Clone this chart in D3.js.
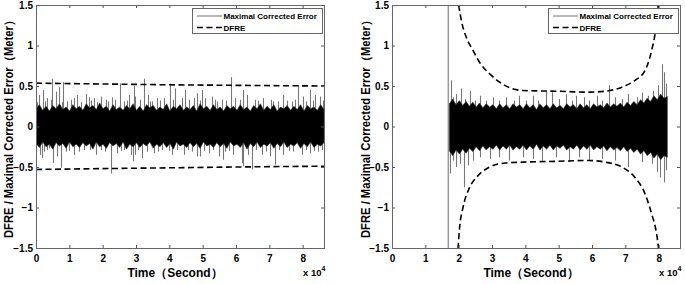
<!DOCTYPE html>
<html>
<head>
<meta charset="utf-8">
<script src="https://cdn.jsdelivr.net/npm/d3@7"></script>
<style>
  body { margin: 0; background: #fff; }
  text { font-family: "Liberation Sans", Arial, sans-serif; font-weight: bold; fill: #000; }
</style>
</head>
<body>
<svg id="mySvg" width="685" height="284"></svg>
<script>
// time in units of 1e4 s, errors in metres
const xTicks = [0, 1, 2, 3, 4, 5, 6, 7, 8];
const yTicks = [-1.5, -1, -0.5, 0, 0.5, 1, 1.5];
const legendLabels = ["Maximal Corrected Error", "DFRE"];
const timeEnd = 8.64;

// left panel: dense error band edges (evenly spread over the record)
const leftCoreRange = [0, 8.64];
const leftCoreUpper = [
  0.22,0.27,0.20,0.25,0.19,0.26,0.22,0.28,0.21,0.24,
  0.19,0.27,0.22,0.25,0.20,0.28,0.23,0.26,0.21,0.29,
  0.22,0.25,0.19,0.27,0.21,0.24,0.20,0.26,0.22,0.28,
  0.20,0.25,0.19,0.27,0.23,0.26,0.20,0.24,0.21,0.28,
  0.19,0.25,0.22,0.27,0.20,0.24,0.21,0.26,0.19,0.28,
  0.22,0.25,0.20,0.27,0.21,0.24,0.19,0.26,0.22,0.25,
  0.20,0.27,0.21,0.24,0.19,0.26,0.22,0.28,0.20,0.25,
  0.21,0.27,0.19,0.24,0.22,0.26,0.20,0.25,0.21,0.27,
  0.19,0.26,0.22,0.24,0.20,0.27,0.21];
const leftCoreLower = [
  -0.21,-0.26,-0.19,-0.25,-0.22,-0.28,-0.20,-0.24,-0.21,-0.27,
  -0.19,-0.25,-0.22,-0.26,-0.20,-0.24,-0.21,-0.28,-0.19,-0.25,
  -0.22,-0.27,-0.20,-0.24,-0.21,-0.26,-0.19,-0.28,-0.22,-0.25,
  -0.20,-0.26,-0.21,-0.24,-0.19,-0.27,-0.22,-0.25,-0.20,-0.26,
  -0.21,-0.28,-0.19,-0.24,-0.22,-0.26,-0.20,-0.25,-0.21,-0.27,
  -0.19,-0.24,-0.22,-0.26,-0.20,-0.25,-0.21,-0.27,-0.19,-0.24,
  -0.22,-0.26,-0.20,-0.28,-0.21,-0.25,-0.19,-0.26,-0.22,-0.24,
  -0.20,-0.27,-0.21,-0.25,-0.19,-0.26,-0.22,-0.24,-0.20,-0.27,
  -0.21,-0.25,-0.19,-0.26,-0.22,-0.24,-0.20];
// left panel: isolated peaks [time, value]
const leftSpikes = [
  [0.09,0.39],[0.22,0.45],[0.34,0.35],[0.49,0.59],[0.59,0.43],[0.69,0.49],[0.82,0.55],[0.94,0.31],[1.14,0.35],[1.24,0.39],
  [1.49,0.40],[1.59,0.36],[1.74,0.35],[1.94,0.37],[2.09,0.33],[2.29,0.36],[2.52,0.53],[2.64,0.31],[2.79,0.39],[2.93,0.50],
  [2.98,0.37],[3.23,0.59],[3.36,0.39],[3.48,0.31],[3.63,0.35],[3.83,0.35],[4.03,0.53],[4.18,0.47],[4.38,0.35],[4.48,0.45],
  [4.73,0.35],[4.83,0.41],[4.98,0.45],[5.08,0.35],[5.28,0.37],[5.43,0.31],[5.58,0.33],[5.85,0.61],[5.97,0.35],[6.22,0.45],
  [6.32,0.39],[6.57,0.33],[6.82,0.35],[7.12,0.31],[7.42,0.39],[7.67,0.31],[7.87,0.51],[8.02,0.37],[8.22,0.45],[8.37,0.39],[8.52,0.37],
  [0.04,0.30],[0.28,0.31],[0.44,0.33],[0.77,0.30],[1.04,0.33],[1.34,0.30],[1.66,0.32],[1.84,0.30],[2.17,0.31],[2.37,0.33],
  [2.72,0.32],[3.12,0.33],[3.42,0.31],[3.72,0.32],[4.12,0.33],[4.58,0.33],[4.92,0.32],[5.36,0.33],[5.70,0.32],[6.12,0.33],
  [6.66,0.32],[7.05,0.33],[7.27,0.31],[7.52,0.32],[7.78,0.33],[8.10,0.31],[8.30,0.32],[8.60,0.32],
  [0.12,-0.35],[0.17,-0.39],[0.24,-0.31],[0.39,-0.27],[0.52,-0.45],[0.62,-0.37],[0.74,-0.51],[0.89,-0.31],[1.14,-0.35],[1.44,-0.29],
  [1.79,-0.35],[1.94,-0.29],[2.26,-0.58],[2.44,-0.33],[2.64,-0.29],[2.84,-0.35],[2.92,-0.43],[2.98,-0.35],[3.18,-0.39],[3.33,-0.31],
  [3.53,-0.33],[3.78,-0.29],[4.08,-0.35],[4.23,-0.29],[4.43,-0.35],[4.68,-0.31],[4.82,-0.37],[4.93,-0.37],[5.18,-0.33],[5.48,-0.37],
  [5.60,-0.41],[5.68,-0.31],[5.92,-0.35],[6.17,-0.45],[6.20,-0.49],[6.37,-0.35],[6.47,-0.53],[6.77,-0.35],[7.02,-0.37],[7.17,-0.47],
  [7.42,-0.35],[7.72,-0.31],[7.97,-0.35],[8.22,-0.33],[8.47,-0.31],
  [0.32,-0.29],[0.98,-0.30],[1.28,-0.31],[1.62,-0.29],[2.08,-0.31],[2.54,-0.30],[3.05,-0.29],[3.66,-0.31],[3.98,-0.30],[4.55,-0.29],
  [5.05,-0.30],[5.30,-0.29],[5.80,-0.30],[6.60,-0.29],[6.90,-0.31],[7.30,-0.29],[7.58,-0.30],[8.10,-0.29],[8.35,-0.30],[8.58,-0.29]
];
const leftDfreTime = [0, 2, 4, 6, 8.64];
const leftDfreUpper = [0.535, 0.525, 0.515, 0.508, 0.50];
const leftDfreLower = [-0.53, -0.52, -0.51, -0.50, -0.49];

// right panel
const rightJumpTime = 1.69;
const rightCoreRange = [1.72, 8.26];
const rightCoreUpper = [
  0.28,0.34,0.27,0.32,0.26,0.31,0.25,0.30,0.24,0.29,
  0.23,0.28,0.24,0.27,0.22,0.28,0.23,0.27,0.22,0.28,
  0.24,0.27,0.22,0.28,0.23,0.27,0.21,0.28,0.23,0.27,
  0.22,0.28,0.23,0.26,0.22,0.28,0.24,0.27,0.22,0.28,
  0.23,0.27,0.22,0.28,0.24,0.27,0.23,0.29,0.24,0.28,
  0.25,0.29,0.24,0.30,0.26,0.31,0.27,0.33,0.29,0.35,
  0.31,0.38,0.33,0.40,0.35,0.37];
const rightCoreLower = [
  -0.30,-0.36,-0.29,-0.34,-0.28,-0.33,-0.27,-0.31,-0.25,-0.30,
  -0.24,-0.29,-0.25,-0.28,-0.23,-0.29,-0.24,-0.28,-0.23,-0.29,
  -0.25,-0.28,-0.23,-0.29,-0.24,-0.28,-0.22,-0.29,-0.24,-0.28,
  -0.23,-0.29,-0.24,-0.27,-0.23,-0.29,-0.25,-0.28,-0.23,-0.29,
  -0.24,-0.28,-0.23,-0.29,-0.25,-0.28,-0.24,-0.30,-0.25,-0.29,
  -0.26,-0.30,-0.25,-0.31,-0.27,-0.32,-0.28,-0.34,-0.30,-0.36,
  -0.32,-0.39,-0.34,-0.41,-0.36,-0.38];
const rightSpikes = [
  [1.76,0.57],[1.84,0.36],[1.93,0.40],[2.08,0.47],[2.18,0.34],[2.33,0.44],[2.48,0.32],[2.63,0.38],[2.83,0.32],[3.03,0.36],
  [3.22,0.32],[3.42,0.36],[3.67,0.32],[3.82,0.38],[4.02,0.32],[4.22,0.38],[4.37,0.32],[4.61,0.44],[4.81,0.42],[5.01,0.34],
  [5.21,0.40],[5.39,0.32],[5.51,0.38],[5.75,0.36],[5.90,0.32],[6.15,0.38],[6.30,0.32],[6.50,0.51],[6.70,0.36],[6.89,0.34],
  [7.09,0.40],[7.34,0.36],[7.49,0.42],[7.69,0.38],[7.84,0.44],[7.99,0.51],[8.09,0.77],[8.16,0.67],[8.23,0.53],
  [1.74,-0.58],[1.82,-0.42],[1.93,-0.50],[2.03,-0.46],[2.15,-0.75],[2.28,-0.48],[2.43,-0.42],[2.63,-0.38],[2.93,-0.40],[3.22,-0.38],
  [3.52,-0.42],[3.92,-0.38],[4.22,-0.40],[4.51,-0.42],[4.91,-0.38],[5.31,-0.44],[5.61,-0.38],[5.90,-0.42],[6.30,-0.40],[6.70,-0.42],
  [7.09,-0.50],[7.49,-0.44],[7.79,-0.46],[7.94,-0.56],[8.04,-0.63],[8.16,-0.69],[8.23,-0.54]
];
const rightDfreUpper = [[2.00,1.5],[2.08,1.31],[2.23,1.10],[2.43,0.94],[2.63,0.79],[2.93,0.65],[3.22,0.55],[3.62,0.465],[3.92,0.444],[4.91,0.436],[5.90,0.424],[6.40,0.436],[6.90,0.486],[7.29,0.57],[7.59,0.69],[7.79,0.94],[7.89,1.14],[7.99,1.5]];
const rightDfreLower = [[1.98,-1.51],[2.03,-1.24],[2.13,-1.0],[2.33,-0.75],[2.53,-0.63],[2.93,-0.50],[3.42,-0.45],[3.92,-0.44],[4.91,-0.43],[5.90,-0.42],[6.40,-0.44],[6.90,-0.50],[7.29,-0.63],[7.59,-0.83],[7.79,-1.08],[7.94,-1.33],[8.00,-1.51]];

const svg = d3.select("#mySvg");
const yRange = [248, 5];
const spikeColor = "#777";

function panel(id, x0, x1, yTitleX, legendX, d) {
  const x = d3.scaleLinear().domain([0, timeEnd]).range([x0, x1]);
  const y = d3.scaleLinear().domain([-1.5, 1.5]).range(yRange);
  const g = svg.append("g");

  g.append("clipPath").attr("id", "clip" + id)
    .append("rect").attr("x", x0).attr("y", yRange[1]).attr("width", x1 - x0).attr("height", yRange[0] - yRange[1]);
  const plot = g.append("g").attr("clip-path", `url(#clip${id})`);

  if (d.jump != null) {
    plot.append("line")
      .attr("x1", x(d.jump)).attr("x2", x(d.jump))
      .attr("y1", y(-1.5)).attr("y2", y(1.5))
      .attr("stroke", "#999").attr("stroke-width", 1.5);
  }

  // spikes
  plot.selectAll(".spike").data(d.spikes).join("line")
    .attr("x1", s => Math.round(x(s[0])) + 0.5).attr("x2", s => Math.round(x(s[0])) + 0.5)
    .attr("y1", y(0)).attr("y2", s => y(s[1]))
    .attr("stroke", spikeColor).attr("stroke-width", 1.1);

  // dense core band
  const n = d.upper.length;
  const tAt = d3.scaleLinear().domain([0, n - 1]).range(d.coreRange);
  const core = d.upper.map((u, i) => ({ t: tAt(i), u: u, l: d.lower[i] }));
  plot.append("path").datum(core)
    .attr("fill", "#000").attr("stroke", "#333").attr("stroke-width", 0.6)
    .attr("d", d3.area().x(c => x(c.t)).y0(c => y(c.l)).y1(c => y(c.u)));

  // DFRE
  const dfre = d3.line().x(p => x(p[0])).y(p => y(p[1])).curve(d3.curveMonotoneX);
  [d.dfreUpper, d.dfreLower].forEach(arr => {
    plot.append("path").datum(arr)
      .attr("fill", "none").attr("stroke", "#000").attr("stroke-width", 1.6)
      .attr("stroke-dasharray", "6,3.5")
      .attr("d", dfre);
  });

  // axes
  g.append("g").attr("transform", `translate(0,${yRange[0]})`)
    .call(d3.axisBottom(x).tickValues(xTicks).tickFormat(d3.format("d")).tickSizeInner(-3).tickSizeOuter(0).tickPadding(7))
    .call(a => a.select(".domain").remove());
  g.append("g").attr("transform", `translate(0,${yRange[1]})`)
    .call(d3.axisTop(x).tickValues(xTicks).tickFormat("").tickSizeInner(-3).tickSizeOuter(0))
    .call(a => a.select(".domain").remove());
  g.append("g").attr("transform", `translate(${x0},0)`)
    .call(d3.axisLeft(y).tickValues(yTicks).tickFormat(d3.format("")).tickSizeInner(-3).tickSizeOuter(0).tickPadding(3))
    .call(a => a.select(".domain").remove());
  g.append("g").attr("transform", `translate(${x1},0)`)
    .call(d3.axisRight(y).tickValues(yTicks).tickFormat("").tickSizeInner(-3).tickSizeOuter(0))
    .call(a => a.select(".domain").remove());
  g.selectAll(".tick text").attr("font-size", 10).attr("font-family", null);
  g.selectAll(".tick line").attr("stroke", "#555");

  g.append("rect").attr("x", x0 + 0.5).attr("y", yRange[1] + 0.5)
    .attr("width", x1 - x0).attr("height", yRange[0] - yRange[1])
    .attr("fill", "none").attr("stroke", "#666");

  // titles
  g.append("text").attr("x", (x0 + x1) / 2 - 5).attr("y", 277)
    .attr("text-anchor", "middle").attr("font-size", 12)
    .text("Time（Second）");
  const ex = g.append("text").attr("x", x1 - 21).attr("y", 276).attr("font-size", 9.5);
  ex.append("tspan").text("x 10");
  ex.append("tspan").attr("dy", -5).attr("font-size", 7).text("4");
  g.append("text")
    .attr("transform", `translate(${yTitleX},${(yRange[0] + yRange[1]) / 2}) rotate(-90)`)
    .attr("text-anchor", "middle").attr("font-size", 12)
    .attr("textLength", 223).attr("lengthAdjust", "spacingAndGlyphs")
    .text("DFRE / Maximal Corrected Error（Meter）");

  // legend
  const lg = g.append("g").attr("transform", `translate(${legendX},8)`);
  lg.append("rect").attr("x", 0.5).attr("y", 0.5).attr("width", 130).attr("height", 25)
    .attr("fill", "#fff").attr("stroke", "#666");
  lg.append("line").attr("x1", 5).attr("x2", 30).attr("y1", 8).attr("y2", 8)
    .attr("stroke", spikeColor).attr("stroke-width", 1);
  lg.append("line").attr("x1", 5).attr("x2", 30).attr("y1", 19.5).attr("y2", 19.5)
    .attr("stroke", "#000").attr("stroke-width", 1.6).attr("stroke-dasharray", "6,3.5");
  lg.selectAll(".lt").data(legendLabels).join("text")
    .attr("x", 31.5).attr("y", (t, i) => 11 + i * 11.5)
    .attr("font-size", 8)
    .text(t => t);
}

panel("L", 36, 324, 13, 192, {
  spikes: leftSpikes, upper: leftCoreUpper, lower: leftCoreLower, coreRange: leftCoreRange,
  dfreUpper: leftDfreTime.map((t, i) => [t, leftDfreUpper[i]]),
  dfreLower: leftDfreTime.map((t, i) => [t, leftDfreLower[i]]),
  jump: null
});
panel("R", 392, 680, 370, 548, {
  spikes: rightSpikes, upper: rightCoreUpper, lower: rightCoreLower, coreRange: rightCoreRange,
  dfreUpper: rightDfreUpper, dfreLower: rightDfreLower, jump: rightJumpTime
});
</script>
</body>
</html>
